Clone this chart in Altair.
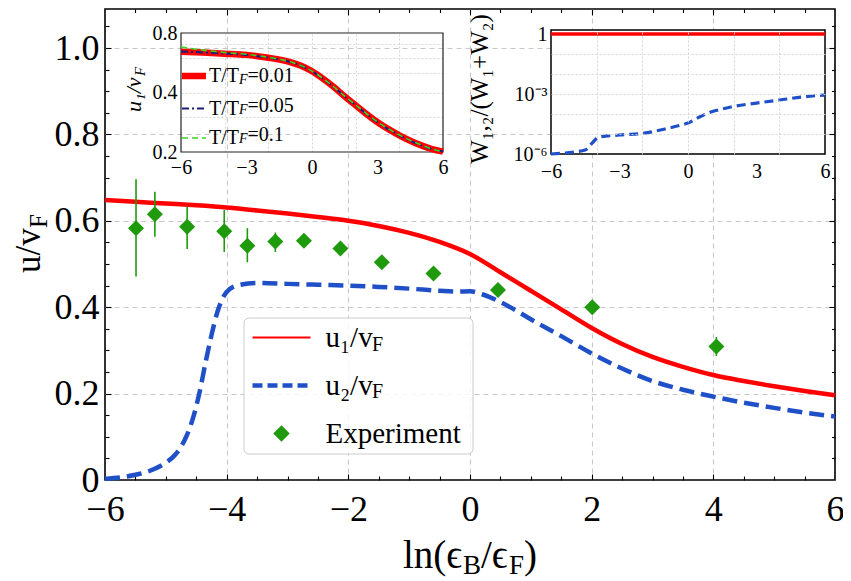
import altair as alt
import pandas as pd

SERIF = "Liberation Serif"
LEFT, TOP, RIGHT = 97, 1, 8
W, H = 730, 471


def px(xp):
    return xp - 8 - LEFT


def py(yp):
    return yp - 8 - TOP


# ---------------- main panel data ----------------
x_u1 = [-6, -5.5, -5, -4.5, -4, -3.5, -3, -2.5, -2, -1.5, -1, -0.5, 0, 0.5, 1,
        1.5, 2, 2.5, 3, 3.5, 4, 4.5, 5, 5.5, 6]
u1 = [0.648, 0.644, 0.640, 0.636, 0.631, 0.624, 0.617, 0.609, 0.600, 0.588, 0.572,
      0.551, 0.523, 0.481, 0.438, 0.395, 0.352, 0.315, 0.285, 0.262, 0.243, 0.229,
      0.217, 0.206, 0.196]

x_u2 = [-6, -5.75, -5.5, -5.25, -5, -4.85, -4.75, -4.65, -4.55, -4.45, -4.35, -4.25,
        -4.15, -4.05, -3.95, -3.8, -3.5, -3, -2.5, -2, -1.5, -1, -0.5, -0.2, 0, 0.2,
        0.5, 0.75, 1, 1.5, 2, 2.5, 3, 3.5, 4, 4.5, 5, 5.5, 6]
u2 = [0.003, 0.006, 0.012, 0.022, 0.040, 0.058, 0.077, 0.105, 0.145, 0.200, 0.270,
      0.335, 0.390, 0.425, 0.442, 0.451, 0.456, 0.454, 0.452, 0.450, 0.447, 0.443,
      0.438, 0.436, 0.437, 0.430, 0.412, 0.393, 0.372, 0.333, 0.293, 0.258, 0.229,
      0.209, 0.193, 0.179, 0.167, 0.156, 0.147]

x_exp = [-5.49, -5.18, -4.65, -4.04, -3.66, -3.2, -2.73, -2.13, -1.45, -0.6, 0.46, 2.01, 4.05]
u_exp = [0.583, 0.615, 0.586, 0.576, 0.542, 0.552, 0.554, 0.536, 0.504, 0.478, 0.440, 0.400, 0.309]
u_lo = [0.471, 0.563, 0.535, 0.528, 0.504, 0.528, 0.540, 0.525, 0.494, 0.468, 0.430, 0.390, 0.287]
u_hi = [0.696, 0.667, 0.633, 0.625, 0.583, 0.573, 0.568, 0.547, 0.514, 0.488, 0.450, 0.410, 0.331]

series = ["u1", "u2", "Experiment"]

# ---------------- inset 1 data ----------------
x_in = [-6, -5, -4, -3, -2, -1, -0.5, 0, 0.5, 1, 1.5, 2, 2.5, 3, 3.5, 4, 4.5, 5, 5.5, 6]
t001 = [0.643, 0.637, 0.629, 0.620, 0.600, 0.570, 0.546, 0.512, 0.470, 0.426, 0.382,
        0.345, 0.311, 0.283, 0.261, 0.243, 0.228, 0.216, 0.207, 0.201]
t005 = [0.645, 0.638, 0.630, 0.620, 0.600, 0.570, 0.546, 0.512, 0.470, 0.426, 0.382,
        0.345, 0.311, 0.283, 0.261, 0.243, 0.228, 0.216, 0.207, 0.201]
t01 = [0.680, 0.655, 0.638, 0.624, 0.603, 0.572, 0.547, 0.513, 0.471, 0.427, 0.383,
       0.346, 0.312, 0.284, 0.262, 0.244, 0.229, 0.217, 0.207, 0.201]
temps = ["0.01", "0.05", "0.1"]

# ---------------- inset 2 data ----------------
x_w1 = [-6, 6]
w1 = [1.0, 1.0]
x_w2 = [-6, -5, -4.5, -4.2, -3.9, -3, -2, -1, -0.3, 0, 0.5, 1, 1.5, 2, 3, 4, 5, 6]
w2 = [1.0e-6, 1.26e-6, 1.58e-6, 3.5e-6, 7.1e-6, 8.9e-6, 1.07e-5, 1.78e-5, 2.8e-5,
      3.5e-5, 7.1e-5, 1.26e-4, 1.78e-4, 2.4e-4, 3.5e-4, 5.0e-4, 7.1e-4, 8.9e-4]

# ---------------- colours ----------------
RED, BLUE, GREEN = "#ff0000", "#2050c8", "#1e9a0c"
NAVY, LIME, GRID = "#1c1c7c", "#3cd41c", "#c8c8c8"
LINE_MAIN = "M-2.9,0H2.9"
LINE_INSET = "M-2.4,0H2.4"

df_u1 = pd.DataFrame({"x": x_u1, "u": u1})
df_u2 = pd.DataFrame({"x": x_u2, "u": u2})
df_exp = pd.DataFrame({"x": x_exp, "u": u_exp, "lo": u_lo, "hi": u_hi})
df_in = pd.DataFrame({"x": x_in, "a": t001, "b": t005, "c": t01})
df_w1 = pd.DataFrame({"x": x_w1, "w": w1})
df_w2 = pd.DataFrame({"x": x_w2, "w": w2})

# ---------------- scales ----------------
sx = alt.Scale(domain=[-6, 6], nice=False, zero=False)
sy = alt.Scale(domain=[0, 1.0903], nice=False, zero=False)
sx1 = alt.Scale(domain=[-6, 6], range=[px(181), px(443)], nice=False, zero=False)
sy1 = alt.Scale(type="log", domain=[0.2, 0.8], range=[py(152), py(33)], nice=False)
sx2 = alt.Scale(domain=[-6, 6], range=[px(551), px(825)], nice=False, zero=False)
sy2 = alt.Scale(type="log", domain=[1e-6, 1.585], range=[py(154), py(30)], nice=False)

box1 = pd.DataFrame({"x0": [-6], "x1": [6], "y0": [0.2], "y1": [0.8]})
box2 = pd.DataFrame({"x0": [-6], "x1": [6], "y0": [1e-6], "y1": [1.585]})

X_MAJ = [-4, -2, 0, 2, 4]
X_MIN = [-5.5, -5, -4.5, -3.5, -3, -2.5, -1.5, -1, -0.5, 0.5, 1, 1.5, 2.5, 3, 3.5, 4.5, 5, 5.5]
Y_MAJ = [0.2, 0.4, 0.6, 0.8, 1.0]
Y_MIN = [0.05, 0.1, 0.15, 0.25, 0.3, 0.35, 0.45, 0.5, 0.55, 0.65, 0.7, 0.75, 0.85,
         0.9, 0.95, 1.05]


def tick_axis(orient, offset, values, size):
    return alt.Axis(orient=orient, offset=offset, values=values, labels=False, ticks=True,
                    tickSize=size, tickColor="black", tickWidth=1.1, domain=False,
                    grid=False, title=None)


def label_axis(orient, offset, values, size, pad, z=0, fmt=None, expr=None):
    kw = dict(orient=orient, offset=offset, values=values, labels=True, ticks=False,
              tickSize=0, domain=False, grid=False, title=None, labelFont=SERIF,
              labelFontSize=size, labelColor="black", labelPadding=pad,
              labelFlush=False, labelOverlap=False, zindex=z)
    if fmt:
        kw["format"] = fmt
    if expr:
        kw["labelExpr"] = expr
    return alt.Axis(**kw)


def grid_axis(orient, values, z=0):
    return alt.Axis(orient=orient, offset=0, values=values, labels=False, ticks=False,
                    domain=False, grid=True, gridColor="#d2d2d2", gridDash=[2, 2],
                    gridWidth=0.9, title=None, zindex=z)


one = pd.DataFrame({"k": [0]})


def note(text, xp, yp, size, angle=0, align="left", baseline="alphabetic", style="normal"):
    return alt.Chart(one).mark_text(
        text=text, font=SERIF, fontSize=size, angle=angle, align=align,
        baseline=baseline, fontStyle=style, color="black"
    ).encode(x=alt.value(px(xp)), y=alt.value(py(yp)))


# ---------------- main panel ----------------
ax_x_lab = alt.Axis(orient="bottom", values=[-6, -4, -2, 0, 2, 4, 6], ticks=False, tickSize=0,
                    domain=False, grid=True, gridColor=GRID, gridDash=[5, 4], gridWidth=1.1,
                    gridOpacity={"condition": {"test": "abs(datum.value) > 5.9", "value": 0}, "value": 1},
                    labelFont=SERIF, labelFontSize=36, labelColor="black", labelPadding=12,
                    labelFlush=False, labelOverlap=False, title=None)
ax_y_lab = alt.Axis(orient="left", values=[0, 0.2, 0.4, 0.6, 0.8, 1.0], ticks=False, tickSize=0,
                    domain=False, grid=True, gridColor=GRID, gridDash=[5, 4], gridWidth=1.1,
                    gridOpacity={"condition": {"test": "datum.value < 0.01", "value": 0}, "value": 1},
                    labelFont=SERIF, labelFontSize=36, labelColor="black", labelPadding=6,
                    labelFlush=False, labelOverlap=False, title=None,
                    labelExpr="datum.value == 0 ? '0' : format(datum.value, '.1f')")

red = alt.Chart(df_u1).mark_line(color=RED, strokeWidth=4.5, interpolate="monotone").encode(
    x=alt.X("x:Q", scale=sx, axis=ax_x_lab), y=alt.Y("u:Q", scale=sy, axis=ax_y_lab))
blue = alt.Chart(df_u2).mark_line(color=BLUE, strokeWidth=4.5, strokeDash=[15, 7],
                                  interpolate="monotone").encode(
    x=alt.X("x:Q", scale=sx, axis=tick_axis("top", -H, X_MAJ, 6)),
    y=alt.Y("u:Q", scale=sy, axis=tick_axis("right", -W, Y_MAJ, 6)))
err = alt.Chart(df_exp).mark_rule(color=GREEN, strokeWidth=1.6).encode(
    x=alt.X("x:Q", scale=sx, axis=tick_axis("top", -H, X_MIN, 4)),
    y=alt.Y("lo:Q", scale=sy, axis=tick_axis("right", -W, Y_MIN, 4)), y2="hi:Q")
pts = alt.Chart(df_exp).mark_point(shape="diamond", filled=True, size=256, color=GREEN,
                                   opacity=1).encode(
    x=alt.X("x:Q", scale=sx, axis=tick_axis("bottom", -H, X_MAJ, 6)),
    y=alt.Y("u:Q", scale=sy, axis=tick_axis("left", -W, Y_MAJ, 6)))
carrier = alt.Chart(df_u1).mark_line(strokeOpacity=0).encode(
    x=alt.X("x:Q", scale=sx, axis=tick_axis("bottom", -H, X_MIN, 3.5)),
    y=alt.Y("u:Q", scale=sy, axis=tick_axis("left", -W, Y_MIN, 3.5)))

# legend box (frame drawn under the legend entries and the subscript texts)
legend_box = alt.Chart(one).mark_rect(fill="white", fillOpacity=0.8, stroke="#cccccc",
                                      strokeWidth=1, cornerRadius=5).encode(
    x=alt.value(px(244)), x2=alt.value(px(473)), y=alt.value(py(318)), y2=alt.value(py(454)))

L = alt.Legend(title=None, orient="none", legendX=px(267), legendY=py(323), padding=0,
               labelFont=SERIF, labelFontSize=29, labelColor="black", labelOffset=29.5,
               rowPadding=18, labelLimit=400, symbolOpacity=1,
               labelExpr="datum.value == 'u1' ? 'u\u2081/v' : datum.value == 'u2' ? 'u\u2082/v' : 'Experiment'")
leg_main = alt.Chart(pd.DataFrame({"series": series})).transform_filter("false").mark_point(
    filled=True).encode(
    shape=alt.Shape("series:N", scale=alt.Scale(domain=series, range=[LINE_MAIN, LINE_MAIN, "diamond"]), legend=L),
    stroke=alt.Stroke("series:N", scale=alt.Scale(domain=series, range=[RED, BLUE, GREEN]), legend=L),
    fill=alt.Fill("series:N", scale=alt.Scale(domain=series, range=["transparent", "transparent", GREEN]), legend=L),
    strokeDash=alt.StrokeDash("series:N", scale=alt.Scale(domain=series, range=[[1, 0], [10, 5], [1, 0]]), legend=L),
    size=alt.Size("series:N", scale=alt.Scale(type="ordinal", domain=series, range=[400, 400, 270]), legend=L),
    strokeWidth=alt.StrokeWidth("series:N", scale=alt.Scale(type="ordinal", domain=series, range=[1.8, 4.5, 0.01]), legend=L),
)

notes = [
    # x title  ln(eps_B / eps_F)
    note("ln(\u03f5", 403, 568, 39),
    note("B", 463, 574, 27),
    note("/\u03f5", 481, 568, 39),
    note("F", 509, 574, 27),
    note(")", 524, 568, 39),
    # y title  u / v_F
    note("u/v", 40, 273, 35, angle=270),
    note("F", 47, 228, 25, angle=270),
    # main legend subscripts
    note("F", 372, 345, 20, baseline="middle"),
    note("F", 372, 392, 20, baseline="middle"),
    # inset 1 y title
    note("u\u2081/v", 141, 112, 22, angle=270, style="italic"),
    note("F", 145, 76, 15, angle=270, style="italic"),
    # inset 1 legend pieces
    note("F", 239, 80, 14, baseline="middle", style="italic"),
    note("=0.01", 247.5, 76, 20, baseline="middle"),
    note("F", 239, 109.5, 14, baseline="middle", style="italic"),
    note("=0.05", 247.5, 105.5, 20, baseline="middle"),
    note("F", 239, 139, 14, baseline="middle", style="italic"),
    note("=0.1", 247.5, 135, 20, baseline="middle"),
    # inset 2 y title
    note("W\u2081,\u2082/(W\u2081+W\u2082)", 488, 89, 25, angle=270, align="center"),
]

main = alt.layer(red, blue, err, pts, carrier, legend_box, leg_main, *notes).resolve_axis(
    x="independent", y="independent")

# ---------------- inset 1 ----------------
frame1 = alt.Chart(box1).mark_rect(fillOpacity=0, stroke="#222222", strokeWidth=1.2).encode(
    x=alt.X("x0:Q", scale=sx1, axis=None), x2="x1:Q",
    y=alt.Y("y0:Q", scale=sy1, axis=None), y2="y1:Q")
in_red = alt.Chart(df_in).mark_line(color=RED, strokeWidth=6.5, interpolate="monotone").encode(
    x=alt.X("x:Q", scale=sx1, axis=label_axis("bottom", -(H - py(152)), [-6, -3, 0, 3, 6], 20, 5)),
    y=alt.Y("a:Q", scale=sy1, axis=label_axis("left", -px(181), [0.2, 0.4, 0.8], 20, 4, fmt=".1f")))
in_navy = alt.Chart(df_in).mark_line(color=NAVY, strokeWidth=2, strokeDash=[7, 3, 2, 3],
                                     interpolate="monotone").encode(
    x=alt.X("x:Q", scale=sx1, axis=grid_axis("top", [-4, -2, 0, 2, 4])),
    y=alt.Y("b:Q", scale=sy1, axis=grid_axis("left", [0.3, 0.4, 0.5, 0.6, 0.7])))
in_lime = alt.Chart(df_in).mark_line(color=LIME, strokeWidth=1.6, strokeDash=[6, 4],
                                     interpolate="monotone").encode(
    x=alt.X("x:Q", scale=sx1, axis=None), y=alt.Y("c:Q", scale=sy1, axis=None))

L2 = alt.Legend(title=None, orient="none", legendX=px(184), legendY=py(66), padding=0,
                symbolSize=100, labelFont=SERIF, labelFontSize=20, labelColor="black",
                labelOffset=5, rowPadding=9.5, labelExpr="'T/T'", symbolOpacity=1)
leg_in = alt.Chart(pd.DataFrame({"T": temps})).transform_filter("false").mark_point(
    shape=LINE_INSET, filled=False).encode(
    stroke=alt.Stroke("T:N", scale=alt.Scale(domain=temps, range=[RED, NAVY, LIME]), legend=L2),
    strokeDash=alt.StrokeDash("T:N", scale=alt.Scale(domain=temps, range=[[1, 0], [7, 3, 2, 3], [6, 4]]), legend=L2),
    strokeWidth=alt.StrokeWidth("T:N", scale=alt.Scale(type="ordinal", domain=temps, range=[6.5, 2, 1.6]), legend=L2),
)

inset1 = alt.layer(frame1, in_red, in_navy, in_lime, leg_in).resolve_axis(
    x="independent", y="independent")

# ---------------- inset 2 ----------------
frame2 = alt.Chart(box2).mark_rect(fill="white", stroke="black", strokeWidth=1.5).encode(
    x=alt.X("x0:Q", scale=sx2, axis=None), x2="x1:Q",
    y=alt.Y("y0:Q", scale=sy2, axis=None), y2="y1:Q")
w_red = alt.Chart(df_w1).mark_line(color=RED, strokeWidth=3.5).encode(
    x=alt.X("x:Q", scale=sx2, axis=label_axis("bottom", -(H - py(154)), [-6, -3, 0, 3, 6], 20, 7, z=1)),
    y=alt.Y("w:Q", scale=sy2, axis=label_axis(
        "left", -px(551), [1, 1e-3, 1e-6], 20, 4, z=1,
        expr="datum.value > 0.5 ? '1' : (datum.value > 1e-4 ? '10\u207b\u00b3' : '10\u207b\u2076')")))
w_blue = alt.Chart(df_w2).mark_line(color=BLUE, strokeWidth=3.2, strokeDash=[9, 5],
                                    interpolate="monotone").encode(
    x=alt.X("x:Q", scale=sx2, axis=grid_axis("top", [-4, -2, 0, 2, 4], z=1)),
    y=alt.Y("w:Q", scale=sy2, axis=grid_axis("left", [1e-5, 1e-4, 1e-3, 1e-2, 1e-1], z=1)))

inset2 = alt.layer(frame2, w_red, w_blue).resolve_axis(x="independent", y="independent")

chart = alt.layer(main, inset1, inset2).resolve_scale(
    x="independent", y="independent", stroke="independent", strokeDash="independent",
    strokeWidth="independent", fill="independent", shape="independent", size="independent"
).properties(
    width=W, height=H, background="white",
    padding={"left": LEFT, "top": TOP, "right": RIGHT, "bottom": 100},
    autosize=alt.AutoSizeParams(type="none"),
).configure_view(stroke="black", strokeWidth=1.6)

chart.save("out.html", embed_options={"renderer": "svg", "actions": False})
